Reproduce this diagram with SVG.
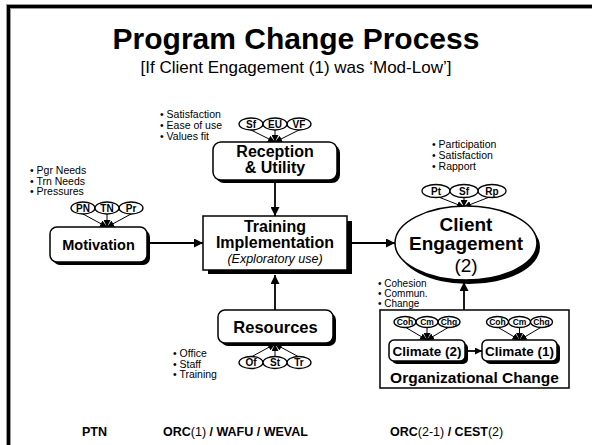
<svg xmlns="http://www.w3.org/2000/svg" width="592" height="445" viewBox="0 0 592 445">
<defs>
<marker id="ah" markerUnits="userSpaceOnUse" markerWidth="9" markerHeight="9" refX="9" refY="4.5" orient="auto"><path d="M0,0 L9,4.5 L0,9 z" fill="#000"/></marker>
<marker id="as" markerUnits="userSpaceOnUse" markerWidth="7" markerHeight="7" refX="7" refY="3.5" orient="auto"><path d="M0,0 L7,3.5 L0,7 z" fill="#000"/></marker>
</defs>
<style>
text{font-family:"Liberation Sans",Arial,sans-serif;fill:#000}
.b{font-weight:bold}
.c{text-anchor:middle}
.bl{font-size:10.5px}
.sm{font-size:10px;font-weight:bold;text-anchor:middle}
.xs{font-size:8.5px;font-weight:bold;text-anchor:middle}
.box{fill:#fff;stroke:#000;stroke-width:1.5}
.sh{fill:#000}
.el{fill:#fff;stroke:#000;stroke-width:1.3}
.ln{stroke:#000;stroke-width:1.8;fill:none}
.lt{stroke:#000;stroke-width:1;fill:none}
</style>
<rect width="592" height="445" fill="#fff"/>
<rect x="8.5" y="6.5" width="600" height="460" fill="none" stroke="#999" stroke-width="5"/>
<rect x="8.5" y="6.5" width="600" height="460" fill="none" stroke="#000" stroke-width="3"/>

<g id="title">
<text x="296" y="49" class="b c" font-size="30">Program Change Process</text>
<text x="296" y="73" class="c" font-size="17">[If Client Engagement (1) was ‘Mod-Low’]</text>
</g>

<g id="connectors">
<line x1="275" y1="181" x2="275" y2="216" class="ln" marker-end="url(#ah)"/>
<line x1="150" y1="243" x2="203" y2="243" class="ln" marker-end="url(#ah)"/>
<line x1="352" y1="243" x2="395" y2="243" class="ln" marker-end="url(#ah)"/>
<line x1="275" y1="310" x2="275" y2="275" class="ln" marker-end="url(#ah)"/>
<line x1="464" y1="310" x2="464" y2="282" class="ln" marker-end="url(#ah)"/>
<line x1="468" y1="351" x2="482" y2="351" class="ln" marker-end="url(#as)"/>
</g>

<g id="reception">
<text class="bl"><tspan x="160" y="118">• Satisfaction</tspan><tspan x="160" y="129">• Ease of use</tspan><tspan x="160" y="140">• Values fit</tspan></text>
<line x1="251" y1="130" x2="275" y2="142" class="lt" marker-end="url(#as)"/>
<line x1="275" y1="130" x2="275" y2="142" class="lt" marker-end="url(#as)"/>
<line x1="299" y1="130" x2="275" y2="142" class="lt" marker-end="url(#as)"/>
<ellipse cx="251" cy="124" rx="12" ry="6" class="el"/><text x="251" y="127.5" class="sm">Sf</text>
<ellipse cx="299" cy="124" rx="12" ry="6" class="el"/><text x="299" y="127.5" class="sm">VF</text>
<ellipse cx="275" cy="124" rx="12" ry="6" class="el"/><text x="275" y="127.5" class="sm">EU</text>
<rect x="216" y="145" width="124" height="38" rx="8" class="sh"/>
<rect x="213" y="142" width="124" height="38" rx="8" class="box"/>
<text class="b c" font-size="16"><tspan x="275" y="157">Reception</tspan><tspan x="275" y="173">&amp; Utility</tspan></text>
</g>

<g id="motivation">
<text class="bl"><tspan x="30" y="174">• Pgr Needs</tspan><tspan x="30" y="184.5">• Trn Needs</tspan><tspan x="30" y="195">• Pressures</tspan></text>
<line x1="83" y1="214" x2="107" y2="227" class="lt" marker-end="url(#as)"/>
<line x1="107" y1="214" x2="107" y2="227" class="lt" marker-end="url(#as)"/>
<line x1="131" y1="214" x2="107" y2="227" class="lt" marker-end="url(#as)"/>
<ellipse cx="83" cy="208" rx="12" ry="6" class="el"/><text x="83" y="211.5" class="sm">PN</text>
<ellipse cx="131" cy="208" rx="12" ry="6" class="el"/><text x="131" y="211.5" class="sm">Pr</text>
<ellipse cx="107" cy="208" rx="12" ry="6" class="el"/><text x="107" y="211.5" class="sm">TN</text>
<rect x="53" y="230" width="97" height="35" rx="7" class="sh"/>
<rect x="50" y="227" width="97" height="35" rx="7" class="box"/>
<text x="98.5" y="250" class="b c" font-size="14.5">Motivation</text>
</g>

<g id="training">
<rect x="208" y="221" width="144" height="53" class="sh"/>
<rect x="203" y="216" width="144" height="54" class="box"/>
<text class="b c" font-size="16"><tspan x="275" y="232">Training</tspan><tspan x="275" y="248">Implementation</tspan></text>
<text x="275" y="263" class="c" font-size="12.5" font-style="italic">(Exploratory use)</text>
</g>

<g id="client">
<text class="bl" font-size="11"><tspan x="432" y="148">• Participation</tspan><tspan x="432" y="159">• Satisfaction</tspan><tspan x="432" y="170">• Rapport</tspan></text>
<line x1="436" y1="196" x2="464" y2="207" class="lt" marker-end="url(#as)"/>
<line x1="464" y1="197" x2="464" y2="207" class="lt" marker-end="url(#as)"/>
<line x1="492" y1="196" x2="464" y2="207" class="lt" marker-end="url(#as)"/>
<ellipse cx="436" cy="191" rx="14" ry="6.5" class="el"/><text x="436" y="195" class="sm" font-size="11">Pt</text>
<ellipse cx="492" cy="191" rx="14" ry="6.5" class="el"/><text x="492" y="195" class="sm" font-size="11">Rp</text>
<ellipse cx="464" cy="191" rx="14" ry="6.5" class="el"/><text x="464" y="195" class="sm" font-size="11">Sf</text>
<ellipse cx="469" cy="247" rx="71" ry="37" class="sh"/>
<ellipse cx="466" cy="243" rx="71" ry="37" class="box"/>
<text class="b c" font-size="19"><tspan x="466" y="231">Client</tspan><tspan x="466" y="250">Engagement</tspan></text>
<text x="466" y="272" class="c" font-size="19">(2)</text>
</g>

<g id="resources">
<text class="bl"><tspan x="173" y="357">• Office</tspan><tspan x="173" y="367.5">• Staff</tspan><tspan x="173" y="378">• Training</tspan></text>
<line x1="251" y1="357" x2="275" y2="344" class="lt" marker-end="url(#as)"/>
<line x1="275" y1="357" x2="275" y2="344" class="lt" marker-end="url(#as)"/>
<line x1="299" y1="357" x2="275" y2="344" class="lt" marker-end="url(#as)"/>
<rect x="221" y="313" width="115" height="33" rx="7" class="sh"/>
<rect x="218" y="310" width="115" height="33" rx="7" class="box"/>
<text x="275.5" y="333" class="b c" font-size="16.5">Resources</text>
<ellipse cx="251" cy="362.5" rx="12" ry="6" class="el"/><text x="251" y="366" class="sm">Of</text>
<ellipse cx="299" cy="362.5" rx="12" ry="6" class="el"/><text x="299" y="366" class="sm">Tr</text>
<ellipse cx="275" cy="362.5" rx="12" ry="6" class="el"/><text x="275" y="366" class="sm">St</text>
</g>

<g id="org-change">
<text font-size="10"><tspan x="378" y="287">• Cohesion</tspan><tspan x="378" y="297">• Commun.</tspan><tspan x="378" y="307">• Change</tspan></text>
<rect x="380" y="310" width="189" height="78" fill="none" stroke="#000" stroke-width="1.5"/>
<text x="474.5" y="383" class="b c" font-size="15.5">Organizational Change</text>
</g>

<g id="climate2">
<line x1="405" y1="327" x2="427" y2="340" class="lt" marker-end="url(#as)"/>
<line x1="427" y1="327" x2="427" y2="340" class="lt" marker-end="url(#as)"/>
<line x1="449" y1="327" x2="427" y2="340" class="lt" marker-end="url(#as)"/>
<ellipse cx="405" cy="322" rx="11" ry="5.5" class="el"/><text x="405" y="325" class="xs">Coh</text>
<ellipse cx="449" cy="322" rx="11" ry="5.5" class="el"/><text x="449" y="325" class="xs">Chg</text>
<ellipse cx="427" cy="322" rx="11" ry="5.5" class="el"/><text x="427" y="325" class="xs">Cm</text>
<rect x="392" y="343" width="76" height="21" rx="5" class="sh"/>
<rect x="389" y="340" width="76" height="21" rx="5" class="box"/>
<text x="427" y="356" class="b c" font-size="13.5">Climate (2)</text>
</g>

<g id="climate1">
<line x1="497.5" y1="327" x2="519.5" y2="340" class="lt" marker-end="url(#as)"/>
<line x1="519.5" y1="327" x2="519.5" y2="340" class="lt" marker-end="url(#as)"/>
<line x1="541.5" y1="327" x2="519.5" y2="340" class="lt" marker-end="url(#as)"/>
<ellipse cx="497.5" cy="322" rx="11" ry="5.5" class="el"/><text x="497.5" y="325" class="xs">Coh</text>
<ellipse cx="541.5" cy="322" rx="11" ry="5.5" class="el"/><text x="541.5" y="325" class="xs">Chg</text>
<ellipse cx="519.5" cy="322" rx="11" ry="5.5" class="el"/><text x="519.5" y="325" class="xs">Cm</text>
<rect x="485" y="343" width="75" height="21" rx="5" class="sh"/>
<rect x="482" y="340" width="75" height="21" rx="5" class="box"/>
<text x="519.5" y="356" class="b c" font-size="13.5">Climate (1)</text>
</g>

<g id="footer" font-size="12.5">
<text x="82" y="436" class="b">PTN</text>
<text x="163" y="436" class="b">ORC<tspan font-weight="normal">(1)</tspan> / WAFU / WEVAL</text>
<text x="390" y="436" class="b">ORC<tspan font-weight="normal">(2-1)</tspan> / CEST<tspan font-weight="normal">(2)</tspan></text>
</g>
</svg>
